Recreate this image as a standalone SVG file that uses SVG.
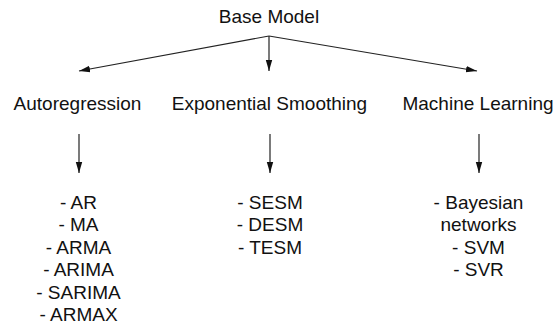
<svg xmlns="http://www.w3.org/2000/svg" width="555" height="327" viewBox="0 0 555 327">
<defs>
<style>
text{font-family:"Liberation Sans",Arial,sans-serif;font-size:19px;fill:#111;text-anchor:middle}
.c line{stroke:#222;stroke-width:1.2;fill:none}
</style>
<marker id="ah" viewBox="0 0 11 10" refX="11" refY="5" markerWidth="11" markerHeight="10" markerUnits="userSpaceOnUse" orient="auto">
<path d="M0,1.8 L11,5 L0,8.2 Z" fill="#111"/>
</marker>
</defs>
<rect width="555" height="327" fill="#fff"/>
<g id="connectors" class="c">
<line x1="269" y1="36" x2="79" y2="71" marker-end="url(#ah)"/>
<line x1="269" y1="36" x2="269" y2="71" marker-end="url(#ah)"/>
<line x1="269" y1="36" x2="477" y2="71" marker-end="url(#ah)"/>
<line x1="79" y1="134" x2="79" y2="173" marker-end="url(#ah)"/>
<line x1="270" y1="134" x2="270" y2="173" marker-end="url(#ah)"/>
<line x1="479" y1="134" x2="479" y2="173" marker-end="url(#ah)"/>
</g>
<g id="base"><text x="269" y="23">Base Model</text></g>
<g id="autoregression"><text x="77.5" y="110">Autoregression</text></g>
<g id="exponential"><text x="269.5" y="110">Exponential Smoothing</text></g>
<g id="ml"><text x="478" y="110">Machine Learning</text></g>
<g id="ar-list">
<text x="78.5" y="208.5">- AR</text>
<text x="78.5" y="231">- MA</text>
<text x="78.5" y="253.5">- ARMA</text>
<text x="78.5" y="276">- ARIMA</text>
<text x="78.5" y="298.5">- SARIMA</text>
<text x="78.5" y="321">- ARMAX</text>
</g>
<g id="es-list">
<text x="270" y="208.5">- SESM</text>
<text x="270" y="231">- DESM</text>
<text x="270" y="253.5">- TESM</text>
</g>
<g id="ml-list">
<text x="478.5" y="208.5">- Bayesian</text>
<text x="478.5" y="231">networks</text>
<text x="478.5" y="253.5">- SVM</text>
<text x="478.5" y="276">- SVR</text>
</g>
</svg>
